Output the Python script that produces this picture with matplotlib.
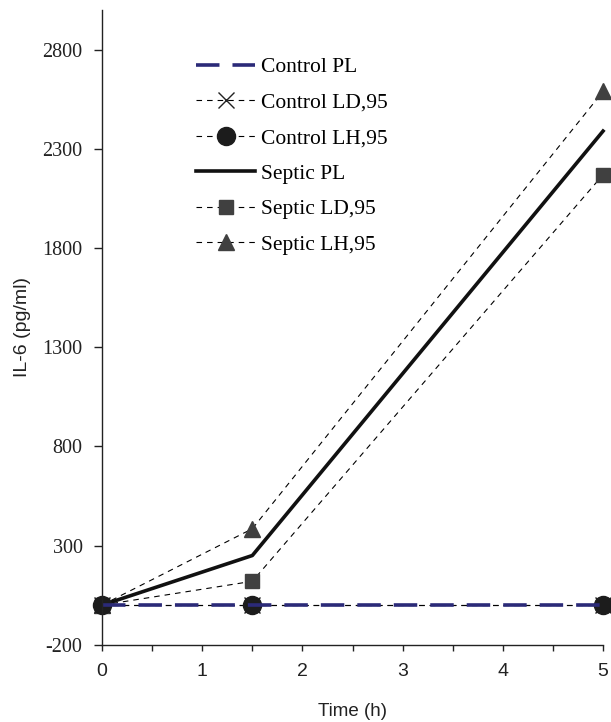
import matplotlib
matplotlib.use("Agg")
import matplotlib.pyplot as plt
from matplotlib.ticker import MultipleLocator

# data
time_h = [0, 1.5, 5]
control_pl = [0, 0, 0]
control_ld = [0, 0, 0]
control_lh = [0, 0, 0]
septic_pl = [0, 250, 2390]
septic_ld = [0, 120, 2170]
septic_lh = [0, 385, 2590]

y_ticks = [-200, 300, 800, 1300, 1800, 2300, 2800]
x_ticks = [0, 1, 2, 3, 4, 5]

SERIF = "Liberation Serif"
SANS = "Liberation Sans"
NAVY = "#2b2a78"
DARK = "#404040"

plt.rcParams["axes.unicode_minus"] = False

fig = plt.figure(figsize=(6.11, 7.22), dpi=100)
ax = fig.add_axes([0.167, 0.107, 0.820, 0.879])

thin = dict(color="black", linewidth=0.8, dashes=(5, 4.5), clip_on=False)

h_slh, = ax.plot(time_h, septic_lh, marker="^", markersize=12, markerfacecolor=DARK,
                 markeredgecolor=DARK, label="Septic LH,95", **thin)
h_sld, = ax.plot(time_h, septic_ld, marker="s", markersize=10, markerfacecolor=DARK,
                 markeredgecolor=DARK, label="Septic LD,95", **thin)
h_spl, = ax.plot(time_h, septic_pl, color="#111111", linewidth=2.6, label="Septic PL",
                 clip_on=False)
h_cld, = ax.plot(time_h, control_ld, marker="x", markersize=12, markeredgewidth=1.0,
                 markeredgecolor="#222222", label="Control LD,95", **thin)
h_clh, = ax.plot(time_h, control_lh, marker="o", markersize=13, markerfacecolor="#1c1c1c",
                 markeredgecolor="#1c1c1c", label="Control LH,95", **thin)
h_cpl, = ax.plot(time_h, control_pl, color=NAVY, linewidth=2.6, dashes=(6.5, 3.6),
                 label="Control PL", clip_on=False)

ax.set_xlim(0, 5)
ax.set_ylim(-200, 3000)

for side in ("top", "right"):
    ax.spines[side].set_visible(False)
for side in ("left", "bottom"):
    ax.spines[side].set_linewidth(1.0)
    ax.spines[side].set_color("#222222")

ax.set_yticks(y_ticks)
ax.set_xticks(x_ticks)
ax.xaxis.set_minor_locator(MultipleLocator(0.5))
ax.tick_params(axis="y", direction="out", length=6, width=1.0, pad=8, color="#222222")
ax.tick_params(axis="x", which="both", direction="out", length=4.5, width=1.0, pad=9,
               color="#222222")
for lbl in ax.get_yticklabels():
    lbl.set_fontfamily(SERIF)
    lbl.set_fontsize(14.5)
    lbl.set_color("#222222")
for lbl in ax.get_xticklabels():
    lbl.set_fontfamily(SANS)
    lbl.set_fontsize(14)
    lbl.set_color("#222222")

ax.set_ylabel("IL-6 (pg/ml)", fontfamily=SANS, fontsize=14, color="#222222", labelpad=8)
ax.set_xlabel("Time (h)", fontfamily=SANS, fontsize=13.5, color="#222222", labelpad=16)

handles = [h_cpl, h_cld, h_clh, h_spl, h_sld, h_slh]
ax.legend(handles=handles, labels=[h.get_label() for h in handles],
          loc="upper left", bbox_to_anchor=(0.321, 0.921), bbox_transform=fig.transFigure,
          frameon=False, borderpad=0, borderaxespad=0, handlelength=2.75,
          handletextpad=0.25, labelspacing=0.72,
          prop={"family": SERIF, "size": 15.5})

fig.savefig("out.png", dpi=100)
